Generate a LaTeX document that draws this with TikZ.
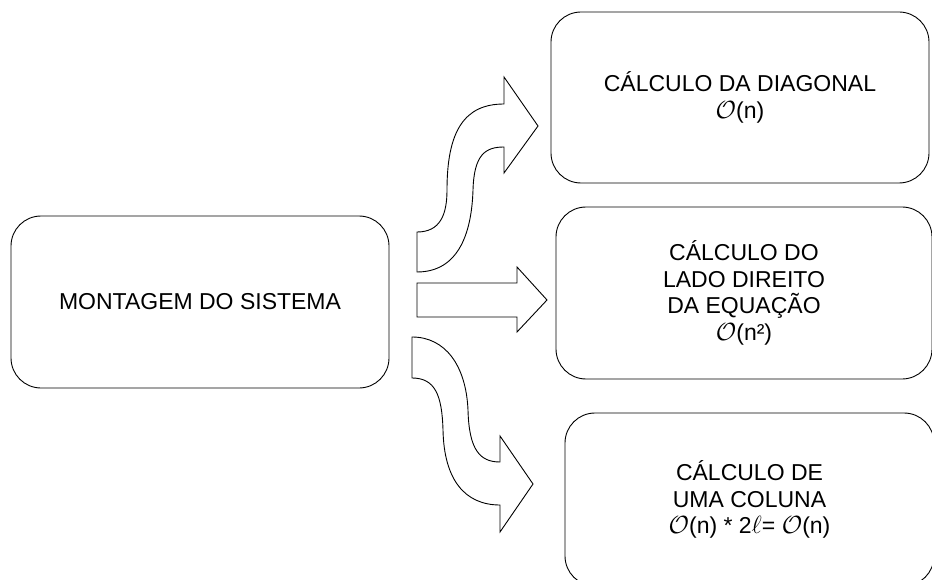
\documentclass[tikz,border=0pt]{standalone}
\usepackage{fontspec}
\setmainfont{Liberation Sans}
\begin{document}
\begin{tikzpicture}[x=1pt,y=-1pt,
  box/.style={draw, line width=0.9pt, rounded corners=30pt, align=center,
    inner sep=0pt, font=\fontsize{23}{26.5}\selectfont},
  blockarrow/.style={draw, line width=0.9pt, line join=miter, fill=white}]
\useasboundingbox (0,0) rectangle (932,580);
\clip (0,0) rectangle (932,580);

% boxes
\node[box, minimum width=378pt, minimum height=172pt] (mont) at (200,302)
  {MONTAGEM DO SISTEMA};
\node[box, minimum width=378pt, minimum height=171pt] (diag) at (740,97.5)
  {CÁLCULO DA DIAGONAL\\$\mathcal{O}$(n)};
\node[box, minimum width=376pt, minimum height=172pt] (lado) at (744,293)
  {CÁLCULO DO\\LADO DIREITO\\DA EQUAÇÃO\\$\mathcal{O}$(n²)};
\node[box, minimum width=369pt, minimum height=173pt] (col) at (749.5,499.5)
  {CÁLCULO DE\\UMA COLUNA\\$\mathcal{O}$(n) * 2$\ell$= $\mathcal{O}$(n)};

% curved block arrow up to the diagonal
\draw[blockarrow] (417,232) .. controls (440,232) and (447,215) .. (447,190)
  .. controls (447,130) and (465,104) .. (504,104) -- (504,77) -- (538,126)
  -- (504,173) -- (504,147) .. controls (485,147) and (474,155) .. (473,190)
  .. controls (472,220) and (465,272) .. (417,272) -- cycle;

% straight block arrow to the right-hand side
\draw[blockarrow] (417,283) -- (517,283) -- (517,267) -- (547,300)
  -- (517,332) -- (517,317) -- (417,317) -- cycle;

% curved block arrow down to the column
\draw[blockarrow] (412,337) .. controls (445,337) and (466,365) .. (468,410)
  .. controls (469,450) and (480,462) .. (500,462) -- (500,436) -- (533,484)
  -- (500,532) -- (500,505) .. controls (465,505) and (444,480) .. (443,430)
  .. controls (442,395) and (435,378) .. (412,378) -- cycle;
\end{tikzpicture}
\end{document}
